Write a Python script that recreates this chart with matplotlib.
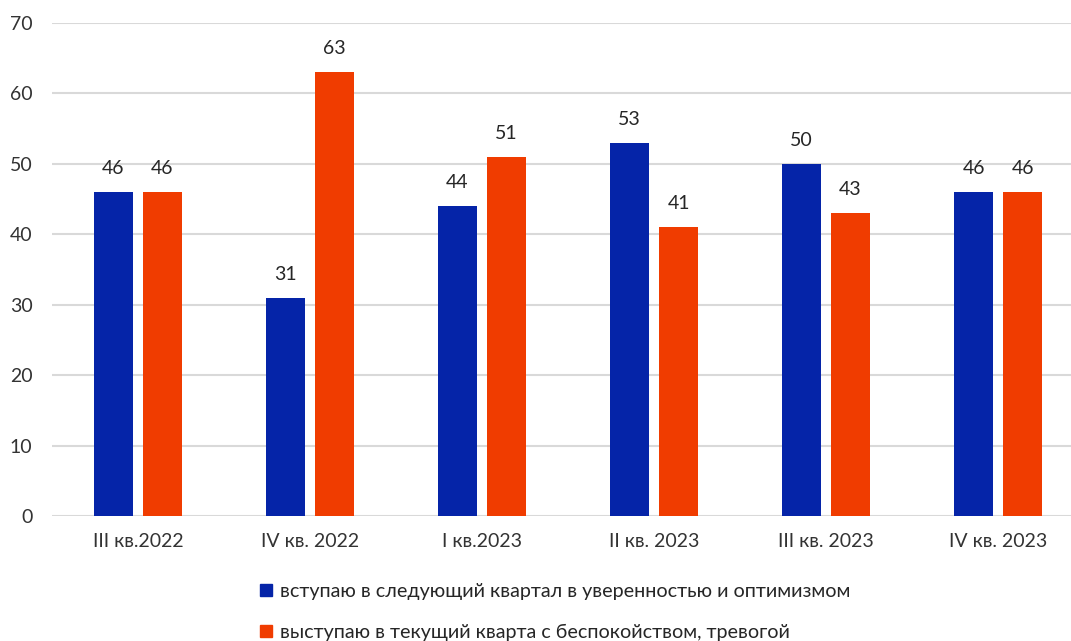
import matplotlib
matplotlib.use("Agg")
import matplotlib.pyplot as plt
import numpy as np
from matplotlib.patches import Patch

categories = ["III кв.2022", "IV кв. 2022", "I кв.2023", "II кв. 2023", "III кв. 2023", "IV кв. 2023"]
optimism = [46, 31, 44, 53, 50, 46]
anxiety = [46, 63, 51, 41, 43, 46]
series_names = ["вступаю в следующий квартал в уверенностью и оптимизмом",
                "выступаю в текущий кварта с беспокойством, тревогой"]
yticks = [0, 10, 20, 30, 40, 50, 60, 70]

BLUE = "#0524A8"
RED = "#F03C00"
TXT = "#333333"

plt.rcParams['font.family'] = ['Lato', 'DejaVu Sans']

fig = plt.figure(figsize=(10.71, 6.41), dpi=100)
ax = fig.add_axes([52/1071, 1-516/641, 1-52/1071, (516-23)/641])

x = np.arange(len(categories))
w = 0.227
off = 0.1425
b1 = ax.bar(x - off, optimism, w, color=BLUE, zorder=3)
b2 = ax.bar(x + off, anxiety, w, color=RED, zorder=3)

for bars, vals in ((b1, optimism), (b2, anxiety)):
    for r, v in zip(bars, vals):
        ax.annotate(str(v), (r.get_x() + r.get_width()/2, v), xytext=(0, 17),
                    textcoords="offset points", ha="center", va="center",
                    fontsize=14, color="#262626")

ax.set_xlim(-0.5, 5.424)
ax.set_ylim(0, 70)
ax.set_yticks(yticks)
ax.set_yticklabels([str(t) for t in yticks], fontsize=14, color=TXT)
ax.set_xticks(x)
ax.set_xticklabels(categories, fontsize=14, color=TXT)
ax.tick_params(length=0)
ax.tick_params(axis='y', pad=14)
ax.tick_params(axis='x', pad=12)
ax.grid(axis='y', color="#D9D9D9", linewidth=1.5, zorder=0)
for s in ax.spines.values():
    s.set_visible(False)

handles = [Patch(color=BLUE), Patch(color=RED)]
fig.legend(handles, series_names, loc="upper left", bbox_to_anchor=(260/1071, 1-583/641),
           frameon=False, fontsize=14.2, labelcolor="#262626", handlelength=0.6, handleheight=0.6,
           handletextpad=0.4, labelspacing=1.2, borderaxespad=0, borderpad=0)

fig.savefig("out.png", dpi=100)
